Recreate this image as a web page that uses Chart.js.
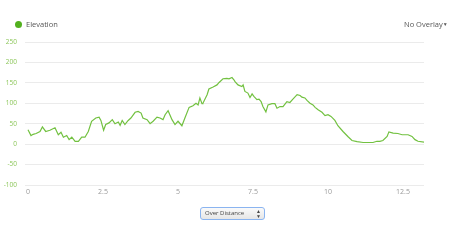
<!DOCTYPE html>
<html>
<head>
<meta charset="utf-8">
<script src="https://cdn.jsdelivr.net/npm/chart.js@4/dist/chart.umd.min.js"></script>
<style>
  body { margin: 0; background: #fff; font-family: "Open Sans", "Liberation Sans", sans-serif; }
  #wrap { position: relative; width: 469px; height: 244px; }
  #chart { position: absolute; left: 0; top: 0; }
  .legend { position: absolute; left: 15px; top: 18px; font-size: 7.5px; color: #555; line-height: 12px; }
  .legend .dot { display: inline-block; width: 7px; height: 7px; border-radius: 50%; background: #52b01e; vertical-align: -1px; margin-right: 4px; }
  .overlay { position: absolute; left: 404px; top: 18px; font-size: 7.5px; color: #555; line-height: 12px; }
  .overlay span { font-size: 5px; vertical-align: 1px; }
  .sel { position: absolute; left: 200px; top: 207px; width: 59px; height: 11px; border: 1.5px solid #8ab4f0; border-radius: 3px;
         background: linear-gradient(#fafafa, #e6e6e6); font-size: 6px; color: #444; line-height: 11px; padding-left: 4px; box-sizing: content-box; }
  .sel .arr { position: absolute; right: 3px; top: 0; font-size: 5px; line-height: 5px; padding-top: 1px; }
</style>
</head>
<body>
<div id="wrap">
  <canvas id="chart" width="469" height="244"></canvas>
  <div class="legend"><span class="dot"></span>Elevation</div>
  <div class="overlay">No Overlay<span>&#9660;</span></div>
  <div class="sel">Over Distance<span class="arr">&#9650;<br>&#9660;</span></div>
</div>
<script>
// distance (x) and elevation (y)
var distance = [0, 0.10, 0.17, 0.27, 0.40, 0.48, 0.59, 0.73, 0.90, 1.01, 1.10, 1.18, 1.29, 1.37, 1.46, 1.57, 1.68, 1.79, 1.90, 2.01,
	2.12, 2.26, 2.37, 2.43, 2.52, 2.59, 2.70, 2.81, 2.90, 3.01, 3.07, 3.14, 3.23, 3.34, 3.43, 3.57, 3.67, 3.77, 3.83, 3.97,
	4.07, 4.17, 4.30, 4.40, 4.50, 4.57, 4.67, 4.80, 4.90, 5.00, 5.13, 5.23, 5.37, 5.50, 5.60, 5.67, 5.73, 5.80, 5.83, 5.97,
	6.03, 6.17, 6.30, 6.37, 6.50, 6.63, 6.70, 6.80, 6.87, 6.90, 7.00, 7.13, 7.17, 7.23, 7.33, 7.40, 7.47, 7.53, 7.63, 7.70,
	7.77, 7.83, 7.93, 8.00, 8.13, 8.23, 8.30, 8.40, 8.50, 8.63, 8.73, 8.83, 8.97, 9.07, 9.13, 9.23, 9.30, 9.40, 9.50, 9.57,
	9.67, 9.80, 9.90, 10.00, 10.10, 10.23, 10.33, 10.50, 10.67, 10.80, 10.97, 11.17, 11.40, 11.50, 11.63, 11.73, 11.83, 11.97, 12.03, 12.17,
	12.33, 12.47, 12.67, 12.80, 12.90, 13.00, 13.20];
var elevation = [35, 21, 24, 26, 31, 42, 31, 34, 40, 23, 29, 17, 21, 11, 17, 7, 7, 17, 17, 31,
	56, 64, 66, 58, 34, 48, 52, 60, 50, 54, 46, 58, 48, 58, 64, 78, 80, 76, 64, 60,
	50, 56, 66, 64, 60, 72, 82, 60, 48, 56, 45, 64, 90, 94, 100, 96, 113, 99, 100, 121,
	135, 140, 145, 151, 160, 161, 160, 163, 157, 153, 145, 141, 145, 129, 125, 114, 123, 117, 109, 110,
	104, 92, 79, 96, 99, 99, 88, 92, 92, 104, 102, 110, 121, 119, 115, 113, 107, 100, 96, 90,
	84, 78, 70, 72, 68, 58, 45, 31, 18, 9, 6, 4, 4, 4, 7, 7, 9, 19, 30, 27,
	26, 23, 23, 19, 11, 7, 5];
var xTicks = [0, 2.5, 5, 7.5, 10, 12.5];
var yTicks = [-100, -50, 0, 50, 100, 150, 200, 250];

var points = [];
for (var i = 0; i < distance.length; i++) {
	points.push({ x: distance[i], y: elevation[i] });
}

new Chart(document.getElementById('chart'), {
	type: 'line',
	data: {
		datasets: [{
			label: 'Elevation',
			data: points,
			borderColor: '#72c140',
			borderWidth: 1.2,
			pointRadius: 0,
			tension: 0,
			fill: false
		}]
	},
	options: {
		responsive: false,
		animation: false,
		layout: { padding: { left: 0, right: 45, top: 42, bottom: 45 } },
		plugins: { legend: { display: false }, tooltip: { enabled: false } },
		scales: {
			x: {
				type: 'linear',
				min: -0.1,
				max: 13.2,
				afterFit: function(s) { s.height = 14; },
				afterBuildTicks: function(s) { s.ticks = xTicks.map(function(v) { return { value: v }; }); },
				grid: { display: false, drawTicks: false },
				border: { display: false },
				ticks: { color: '#999', font: { size: 7, family: 'Open Sans' }, padding: 3, maxRotation: 0 }
			},
			y: {
				min: -100,
				max: 250,
				afterFit: function(s) { s.width = 25; },
				afterBuildTicks: function(s) { s.ticks = yTicks.map(function(v) { return { value: v }; }); },
				grid: { color: '#ebebeb', lineWidth: 1, drawTicks: false },
				border: { display: false },
				ticks: { color: '#8cc65a', font: { size: 6.5, family: 'Open Sans' }, padding: 8 }
			}
		}
	}
});
</script>
</body>
</html>
